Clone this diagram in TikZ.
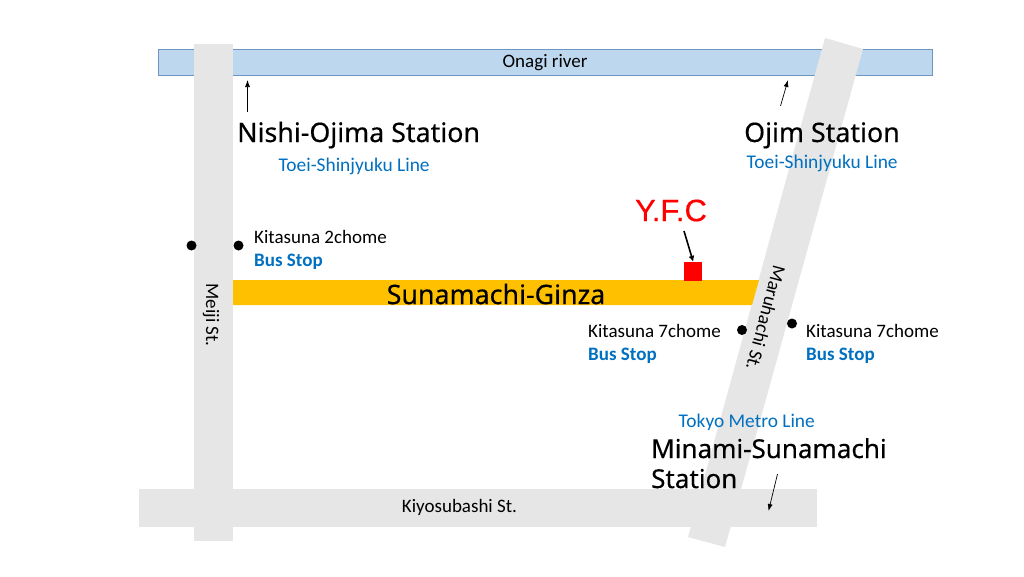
\documentclass[tikz,border=0pt]{standalone}
\usepackage{fontspec}
\setmainfont{Carlito}
\newfontfamily\headfont[FakeBold=0.35]{Noto Sans}
\newfontfamily\yfcfont[FakeBold=0.4]{Liberation Sans}
\usetikzlibrary{arrows.meta}
\definecolor{roadgray}{RGB}{231,230,230}
\definecolor{riverfill}{RGB}{189,215,238}
\definecolor{riverline}{RGB}{110,150,195}
\definecolor{ginza}{RGB}{255,192,0}
\definecolor{linkblue}{RGB}{0,112,192}
\tikzset{
  road/.style={fill=roadgray,draw=none},
  label text/.style={inner sep=0pt,font=\fontsize{19}{19}\selectfont},
  stoptext/.style={label text,anchor=base west},
  busstop/.style={inner sep=0pt,anchor=base west,text=linkblue,font=\fontsize{19}{19}\selectfont\bfseries},
  linetext/.style={inner sep=0pt,anchor=base west,text=linkblue,font=\fontsize{19.4}{19.4}\selectfont},
  station/.style={inner sep=0pt,anchor=base west,font=\headfont\fontsize{26.8}{26.8}\selectfont},
  stopdot/.style={circle,fill=black,inner sep=0pt,minimum size=10pt},
  thinarrow/.style={draw=black,line width=0.7pt,-{Latex[length=7pt,width=5pt]}},
  boldarrow/.style={draw=black,line width=1.6pt,-{Latex[length=6pt,width=6pt]}}
}
\begin{document}
\begin{tikzpicture}[x=1pt,y=-1pt]
\useasboundingbox (0,0) rectangle (1024,576);
\fill[white] (0,0) rectangle (1024,576);
% river
\draw[fill=riverfill,draw=riverline,line width=0.8pt] (158,49) rectangle (932,75);
% roads
\fill[road] (194,44) rectangle (233,541);
\fill[road] (139,489) rectangle (817,527);
\fill[road] (825,38) -- (863,49) -- (725,547) -- (688,537) -- cycle;
% shopping street
\fill[ginza] (233,280) -- (759,280) -- (752,305) -- (233,305) -- cycle;
% labels on shapes
\node[label text] (river) at (545,62.5) {Onagi river};
\node[label text,rotate=-90] (meiji) at (211,315) {Meiji St.};
\node[label text,rotate=-105] (maru) at (766,318) {Maruhachi St.};
\node[label text] (kiyo) at (459.5,507) {Kiyosubashi St.};
\node[inner sep=0pt,font=\headfont\fontsize{26.8}{26.8}\selectfont] (ginzat) at (496,294) {Sunamachi-Ginza};
% stations
\node[station] (nishi) at (237,142) {Nishi-Ojima Station};
\node[linetext] (nishil) at (278.5,171) {Toei-Shinjyuku Line};
\node[station] (ojim) at (744,142) {Ojim Station};
\node[linetext] (ojiml) at (746.5,168.5) {Toei-Shinjyuku Line};
\node[linetext] (metro) at (678.5,427) {Tokyo Metro Line};
\node[station,font=\headfont\fontsize{26}{26}\selectfont] (minami) at (651,458) {Minami-Sunamachi};
\node[station,font=\headfont\fontsize{26}{26}\selectfont] (minami2) at (651,488) {Station};
% bus stops
\node[stopdot] (d1) at (191.5,245.5) {};
\node[stopdot] (d2) at (238.5,245.5) {};
\node[stopdot] (d3) at (742,330) {};
\node[stopdot] (d4) at (792,323.5) {};
\node[stoptext] (s1) at (254,243) {Kitasuna 2chome};
\node[busstop] (b1) at (254,266) {Bus Stop};
\node[stoptext] (s2) at (588,337) {Kitasuna 7chome};
\node[busstop] (b2) at (588,360) {Bus Stop};
\node[stoptext] (s3) at (806,337) {Kitasuna 7chome};
\node[busstop] (b3) at (806,360) {Bus Stop};
% Y.F.C
\node[inner sep=0pt,text=red,font=\yfcfont\fontsize{31}{31}\selectfont] (yfc) at (671,210.5) {Y.F.C};
\node[fill=red,inner sep=0pt,minimum width=18.5pt,minimum height=19pt] (red) at (693.2,271.5) {};
% arrows
\coordinate (a1s) at (247.5,112);
\coordinate (a1e) at (247.5,80);
\coordinate (a2s) at (780.5,106);
\coordinate (a2e) at (788,80);
\coordinate (a3s) at (777.5,474);
\coordinate (a3e) at (768.5,511);
\coordinate (a4s) at (684,231);
\draw[thinarrow] (a1s) -- (a1e);
\draw[thinarrow] (a2s) -- (a2e);
\draw[thinarrow] (a3s) -- (a3e);
\draw[boldarrow] (a4s) -- (red.north);
\end{tikzpicture}
\end{document}
